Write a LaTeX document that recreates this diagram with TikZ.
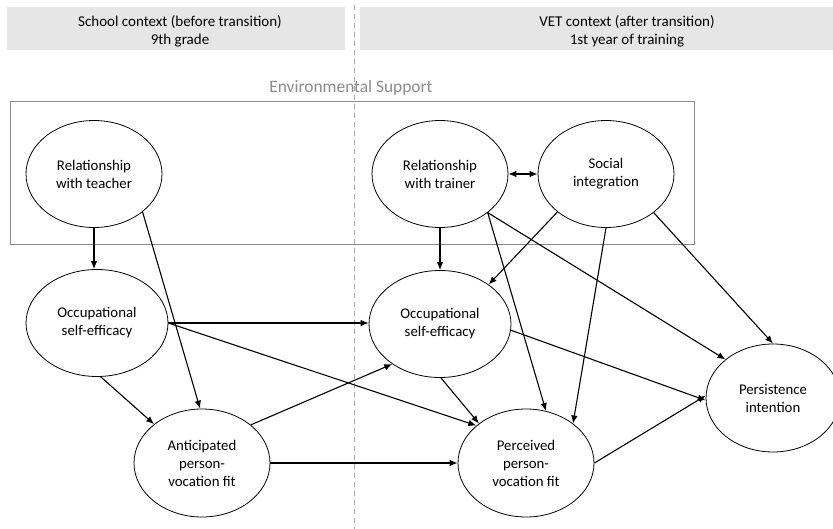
\documentclass[tikz,border=0pt]{standalone}
\usepackage{fontspec}
\setmainfont{Carlito}
\usetikzlibrary{shapes.geometric,arrows.meta}
\definecolor{hdrfill}{HTML}{E6E6E6}
\definecolor{envgray}{HTML}{8C8C8C}
\definecolor{dashgray}{HTML}{A6A6A6}
\begin{document}
\begin{tikzpicture}[x=1pt,y=-1pt,
  var/.style={ellipse,draw,line width=0.8pt,inner sep=0pt,align=center,
    font=\fontsize{14.8}{18}\selectfont,minimum width=136pt,minimum height=107pt},
  widevar/.style={var,minimum width=142pt},
  arr/.style={line width=1.1pt,-{Latex[length=8pt,width=6.5pt]}},
  dblarr/.style={line width=1.1pt,{Latex[length=8pt,width=6.5pt]}-{Latex[length=8pt,width=6.5pt]}},
  hdrtext/.style={align=center,font=\fontsize{15}{18}\selectfont,inner sep=0pt},
]
\useasboundingbox (0,0) rectangle (833,529);
% headers
\fill[hdrfill] (7,7) rectangle (345,50);
\fill[hdrfill] (360,7) rectangle (833,50);
\node[hdrtext] (hL) at (180,31) {School context (before transition)\\9th grade};
\node[hdrtext] (hR) at (627,31) {VET context (after transition)\\1st year of training};
% environmental support box
\draw[envgray,line width=1pt] (10,102) rectangle (694,245);
\node[text=envgray,font=\fontsize{17.4}{20}\selectfont,inner sep=0pt] (env) at (351,88) {Environmental Support};
% divider
\draw[dashgray,line width=1pt,dash pattern=on 5pt off 4pt] (354,5) -- (354,529);
% variables
\node[var] (teacher) at (94,174) {Relationship\\with teacher};
\node[var] (trainer) at (440,174) {Relationship\\with trainer};
\node[var] (social) at (606,174) {Social\\integration};
\node[widevar] (oseL) at (97,323) {Occupational\\self-efficacy};
\node[widevar] (oseR) at (440,324) {Occupational\\self-efficacy};
\node[var,minimum height=108pt] (ant) at (202,463) {Anticipated\\person-\\vocation fit};
\node[var,minimum height=108pt] (perc) at (526,463) {Perceived\\person-\\vocation fit};
\node[var,minimum width=134pt,minimum height=108pt] (pers) at (773,398) {Persistence\\intention};
% connectors
\draw[arr] (teacher.south) -- (teacher.south |- oseL.north);
\draw[arr] (teacher.-38) -- (ant.92);
\draw[arr] (oseL.east) -- (oseL.east -| oseR.west);
\draw[arr] (oseL.east) -- (perc.143);
\draw[arr] (oseL.-86) -- (ant.141);
\draw[arr] (ant.38) -- (oseR.220);
\draw[arr] (ant.east) -- (perc.west);
\draw[arr] (trainer.south) -- (oseR.north);
\draw[dblarr] (trainer.east) -- (social.west);
\draw[arr] (social.218) -- (oseR.39);
\draw[arr] (trainer.-39) -- (perc.69);
\draw[arr] (trainer.-39) -- (pers.141);
\draw[arr] (social.-90) -- (perc.40);
\draw[arr] (social.-39) -- (pers.north);
\draw[arr] (oseR.-5) -- (pers.182);
\draw[arr] (perc.east) -- (pers.178);
\draw[arr] (oseR.-89) -- (perc.140);
\end{tikzpicture}
\end{document}
